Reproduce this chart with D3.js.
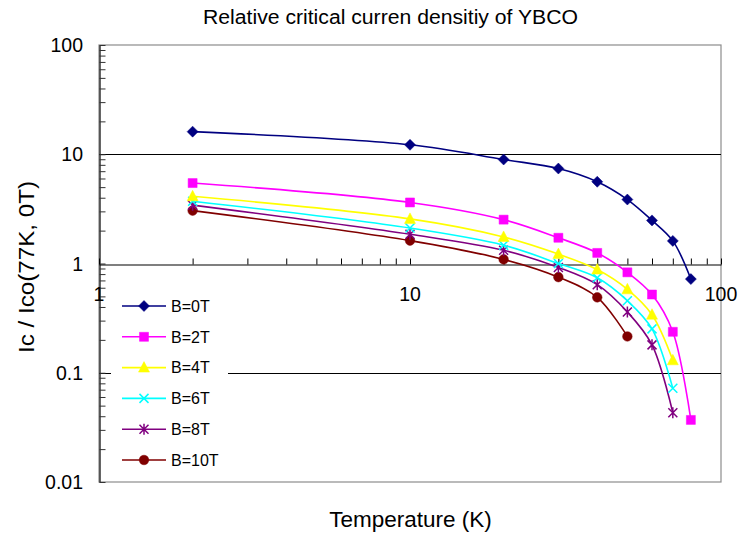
<!DOCTYPE html>
<html>
<head>
<meta charset="utf-8">
<title>Relative critical curren densitiy of YBCO</title>
<script src="https://d3js.org/d3.v7.min.js"></script>
<style>
  body { margin: 0; background: #fff; }
  text { font-family: "Liberation Sans", Arial, sans-serif; fill: #000; }
</style>
</head>
<body>
<script>
// data
var temps = [2, 10, 20, 30, 40, 50, 60, 70, 80];
var b0T  = [16.1, 12.2, 8.95, 7.4, 5.6, 3.85, 2.48, 1.61, 0.72];
var b2T  = [5.45, 3.62, 2.52, 1.72, 1.25, 0.83, 0.52, 0.237, 0.037];
var b4T  = [4.12, 2.56, 1.75, 1.22, 0.88, 0.58, 0.34, 0.13];
var b6T  = [3.71, 2.11, 1.47, 1.0, 0.74, 0.456, 0.252, 0.072];
var b8T  = [3.42, 1.85, 1.32, 0.92, 0.64, 0.36, 0.18, 0.043];
var b10T = [3.05, 1.62, 1.09, 0.75, 0.49, 0.215];
var seriesNames = ["B=0T", "B=2T", "B=4T", "B=6T", "B=8T", "B=10T"];
var seriesValues = [b0T, b2T, b4T, b6T, b8T, b10T];

var yTickValues = [0.01, 0.1, 1, 10, 100];
var yTickLabels = ["0.01", "0.1", "1", "10", "100"];
var xTickValues = [1, 10, 100];
var xTickLabels = ["1", "10", "100"];
var gridValues = [0.1, 10];

var titleText = "Relative critical curren densitiy of YBCO";
var xTitle = "Temperature (K)";
var yTitle = "Ic / Ico(77K, 0T)";

// styles
var seriesColors = ["#000080", "#ff00ff", "#ffff00", "#00ffff", "#800080", "#800000"];
var seriesMarkers = ["diamond", "square", "triangle", "x", "star", "circle"];

var W = 741, H = 536;
var plot = {left: 99, right: 721, top: 45, bottom: 482};

var svg = d3.select("body").append("svg")
    .attr("width", W)
    .attr("height", H);

var x = d3.scaleLog().domain([1, 100]).range([plot.left, plot.right]);
var y = d3.scaleLog().domain([0.01, 100]).range([plot.bottom, plot.top]);

// every decade tick 1..9 * 10^k
function logTicks(lo, hi) {
    var out = [];
    for (var p = lo; p < hi; p *= 10) {
        for (var m = 1; m < 10; m++) out.push(+(m * p).toPrecision(3));
    }
    out.push(hi);
    return out;
}

// plot frame (gray)
svg.append("rect")
    .attr("x", plot.left)
    .attr("y", plot.top)
    .attr("width", plot.right - plot.left)
    .attr("height", plot.bottom - plot.top)
    .attr("fill", "none")
    .attr("stroke", "#8c8c8c")
    .attr("stroke-width", 1.2);

// horizontal grid lines
svg.append("g").selectAll("line")
    .data(gridValues)
    .join("line")
    .attr("x1", plot.left)
    .attr("x2", plot.right)
    .attr("y1", d => Math.round(y(d)) + 0.5)
    .attr("y2", d => Math.round(y(d)) + 0.5)
    .attr("stroke", "#000")
    .attr("stroke-width", 1);

// y axis with inward ticks
var yAxis = svg.append("g")
    .attr("transform", "translate(" + (plot.left + 0.5) + ",0)")
    .call(d3.axisRight(y).tickValues(logTicks(0.01, 100)).tickSize(6).tickSizeOuter(0).tickFormat(""));
yAxis.select(".domain").attr("stroke", "#333").attr("stroke-width", 1.5);
yAxis.selectAll(".tick line").attr("stroke", "#333");

// x axis crossing at y = 1, ticks upward
var xAxis = svg.append("g")
    .attr("transform", "translate(0," + (Math.round(y(1)) + 0.5) + ")")
    .call(d3.axisTop(x).tickValues(logTicks(1, 100)).tickSize(6).tickSizeOuter(0).tickFormat(""));
xAxis.select(".domain").attr("stroke", "#000").attr("stroke-width", 1.2);
xAxis.selectAll(".tick line").attr("stroke", "#000");

// tick labels
svg.append("g").selectAll("text")
    .data(yTickValues)
    .join("text")
    .attr("x", 83)
    .attr("y", d => y(d))
    .attr("dy", "0.36em")
    .attr("text-anchor", "end")
    .style("font-size", "19.5px")
    .text((d, i) => yTickLabels[i]);

svg.append("g").selectAll("text")
    .data(xTickValues)
    .join("text")
    .attr("x", d => x(d))
    .attr("y", y(1) + 30)
    .attr("dy", "0.36em")
    .attr("text-anchor", "middle")
    .style("font-size", "19.5px")
    .text((d, i) => xTickLabels[i]);

// titles
svg.append("text")
    .attr("x", 390.5)
    .attr("y", 24)
    .attr("text-anchor", "middle")
    .attr("textLength", 375)
    .attr("lengthAdjust", "spacingAndGlyphs")
    .style("font-size", "19.5px")
    .text(titleText);

svg.append("text")
    .attr("x", 410.5)
    .attr("y", 527)
    .attr("text-anchor", "middle")
    .style("font-size", "22.5px")
    .text(xTitle);

svg.append("text")
    .attr("transform", "translate(34,267) rotate(-90)")
    .attr("text-anchor", "middle")
    .attr("textLength", 172)
    .attr("lengthAdjust", "spacingAndGlyphs")
    .style("font-size", "22.5px")
    .text(yTitle);

// marker shapes
function markerPath(type) {
    switch (type) {
        case "diamond": return "M0,-5.5L5.5,0L0,5.5L-5.5,0Z";
        case "square": return "M-4.5,-4.5H4.5V4.5H-4.5Z";
        case "triangle": return "M0,-6L5.5,4.5H-5.5Z";
        case "x": return "M-4.5,-4.5L4.5,4.5M-4.5,4.5L4.5,-4.5";
        case "star": return "M-4.5,-4.5L4.5,4.5M-4.5,4.5L4.5,-4.5M0,-5.5V5.5";
        case "circle": return d3.symbol(d3.symbolCircle, 72)();
    }
}
function isStroke(type) { return type === "x" || type === "star"; }

function drawMarker(g, type, color) {
    g.append("path")
        .attr("d", markerPath(type))
        .attr("fill", isStroke(type) ? "none" : color)
        .attr("stroke", color)
        .attr("stroke-width", isStroke(type) ? 1.5 : 0.5);
}

var line = d3.line()
    .x(d => x(d[0]))
    .y(d => y(d[1]))
    .curve(d3.curveCatmullRom.alpha(0.5));

// series, drawn last first so B=0T sits on top
for (var s = seriesValues.length - 1; s >= 0; s--) {
    var pts = seriesValues[s].map((v, i) => [temps[i], v]);
    var g = svg.append("g");
    g.append("path")
        .attr("d", line(pts))
        .attr("fill", "none")
        .attr("stroke", seriesColors[s])
        .attr("stroke-width", 1.6);
    var mk = g.selectAll("g.mk")
        .data(pts)
        .join("g")
        .attr("class", "mk")
        .attr("transform", d => "translate(" + x(d[0]) + "," + y(d[1]) + ")");
    var type = seriesMarkers[s], col = seriesColors[s];
    mk.each(function() { drawMarker(d3.select(this), type, col); });
}

// legend
var legend = svg.append("g");
legend.append("rect")
    .attr("x", 111)
    .attr("y", 287)
    .attr("width", 117)
    .attr("height", 190)
    .attr("fill", "#fff");

var entry = legend.selectAll("g.entry")
    .data(seriesNames)
    .join("g")
    .attr("class", "entry")
    .attr("transform", (d, i) => "translate(0," + (306 + i * 30.8) + ")");

entry.append("line")
    .attr("x1", 122).attr("x2", 166)
    .attr("y1", 0).attr("y2", 0)
    .attr("stroke", (d, i) => seriesColors[i])
    .attr("stroke-width", 1.6);

entry.each(function(d, i) {
    var m = d3.select(this).append("g").attr("transform", "translate(144,0)");
    drawMarker(m, seriesMarkers[i], seriesColors[i]);
});

entry.append("text")
    .attr("x", 171)
    .attr("y", 0)
    .attr("dy", "0.36em")
    .style("font-size", "16px")
    .text(d => d);
</script>
</body>
</html>
